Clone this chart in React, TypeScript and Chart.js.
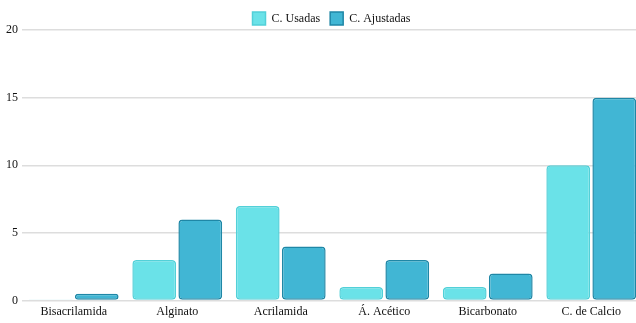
import React, { useEffect, useRef } from "react";
import { Chart, registerables } from "chart.js";

Chart.register(...registerables);

const categories = ["Bisacrilamida", "Alginato", "Acrilamida", "Á. Acético", "Bicarbonato", "C. de Calcio"];
const usadas = [0, 3, 7, 1, 1, 10];
const ajustadas = [0.5, 6, 4, 3, 2, 15];
const yTicks = [0, 5, 10, 15, 20];

const legendTweak = {
  id: "legendTweak",
  afterInit(chart: any) {
    const lg = chart.legend;
    if (lg) {
      const origFit = lg.fit;
      lg.fit = function () {
        origFit.call(this);
        this.height -= 5;
      };
    }
  },
  afterLayout(chart: any) {
    const lg = chart.legend;
    if (lg) {
      lg.left += 9;
      lg.right += 9;
    }
  },
};

export default function App() {
  const ref = useRef<HTMLCanvasElement | null>(null);
  useEffect(() => {
    document.body.style.margin = "0";
    document.body.style.overflow = "hidden";
    const ctx = ref.current!;
    const font = { family: "'Liberation Serif', serif", size: 12 };
    const chart = new Chart(ctx, {
      type: "bar",
      plugins: [legendTweak],
      data: {
        labels: categories,
        datasets: [
          {
            label: "C. Usadas",
            data: usadas,
            backgroundColor: "#6ae2e8",
            borderColor: "#52d0d8",
            borderWidth: 1.5,
            borderRadius: 4,
            borderSkipped: false,
            minBarLength: 1,
          },
          {
            label: "C. Ajustadas",
            data: ajustadas,
            backgroundColor: "#41b6d4",
            borderColor: "#1f87a6",
            borderWidth: 1.5,
            borderRadius: 4,
            borderSkipped: false,
          },
        ],
      },
      options: {
        animation: false,
        responsive: false,
        datasets: { bar: { categoryPercentage: 0.89, barPercentage: 0.95 } },
        layout: { padding: { left: 2, right: 22, top: 2, bottom: 0 } },
        plugins: {
          legend: {
            position: "top",
            labels: { font, color: "#111", boxWidth: 13, boxHeight: 13, padding: 10 },
          },
          tooltip: { enabled: false },
        },
        scales: {
          x: {
            grid: { display: false, drawTicks: false },
            border: { display: false },
            ticks: { font, color: "#111", padding: 4 },
          },
          y: {
            min: 0,
            max: 20,
            afterBuildTicks: (axis: any) => {
              axis.ticks = yTicks.map((v) => ({ value: v }));
            },
            grid: { color: "#dddddd", lineWidth: 1.5, drawTicks: false },
            border: { display: false },
            ticks: { font, color: "#111", padding: 4 },
          },
        },
      },
    });
    return () => chart.destroy();
  }, []);
  return (
    <div style={{ width: 636, height: 323, overflow: "hidden" }}>
      <canvas ref={ref} width={665} height={323} style={{ display: "block" }} />
    </div>
  );
}
